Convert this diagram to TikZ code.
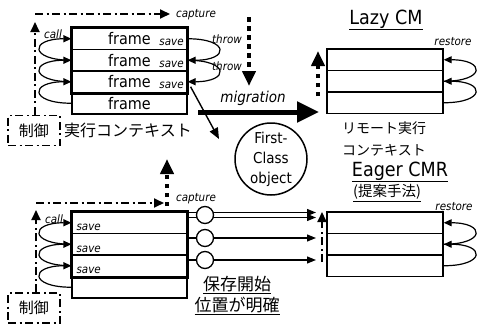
\documentclass[tikz,border=0pt]{standalone}
\usepackage{fontspec}
\setmainfont{DejaVu Sans Condensed}
\newfontfamily\jp{Noto Sans CJK JP}
\usetikzlibrary{arrows.meta,calc}
\begin{document}
\begin{tikzpicture}[x=1pt,y=-1pt,
  row/.style={draw, line width=1.2pt, minimum width=115pt, minimum height=21.5pt, inner sep=0pt, font=\fontsize{16}{17}\selectfont},
  rrow/.style={draw, line width=1.4pt, minimum width=116pt, minimum height=21.5pt, inner sep=0pt},
  thickbox/.style={line width=3pt},
  smallit/.style={font=\fontsize{11.5}{12}\selectfont\itshape, inner sep=0pt},
  dashdot/.style={line width=1.8pt, dash pattern=on 8pt off 3.5pt on 2pt off 3.5pt},
  ddarrow/.style={dashdot, -{Triangle[length=10pt,width=9pt]}},
  dotarrow/.style={line width=4.5pt, dash pattern=on 4.5pt off 4.5pt, -{Triangle[length=15pt,width=13pt]}},
  curvearr/.style={line width=1.2pt, -{Triangle[length=8pt,width=7pt]}},
  linearr/.style={line width=1.2pt, -{Triangle[length=9pt,width=7pt]}},
  ctrlbox/.style={dashdot, draw, minimum width=52pt, minimum height=30pt, inner sep=0pt, font=\jp\fontsize{15}{16}\selectfont},
  jptext/.style={font=\jp\fontsize{15}{17}\selectfont, inner sep=0pt},
  bigtitle/.style={font=\fontsize{19.5}{21}\selectfont, inner sep=0pt},
  smallc/.style={circle, draw, line width=1.3pt, fill=white, minimum size=17pt, inner sep=0pt}
]
\useasboundingbox (0,0) rectangle (477,324);

% ---------- top left stack ----------
\node[row] (L1) at (129.5,38.75) {\raisebox{-1.5pt}{frame}};
\node[row] (L2) at (129.5,60.25) {\raisebox{-1.5pt}{frame}};
\node[row] (L3) at (129.5,81.75) {\raisebox{-1.5pt}{frame}};
\node[row] (L4) at (129.5,103.25) {\raisebox{-1.5pt}{frame}};
\draw[thickbox] (L1.north west) rectangle (L3.south east);
\foreach \r in {L1,L2,L3}{
  \node[smallit] at ([xshift=-16pt,yshift=-4pt]\r.east) {save};
}
\draw[curvearr] (L2.west) .. controls +(-42,0) and +(-42,0) .. (L1.west);
\draw[curvearr] (L3.west) .. controls +(-42,0) and +(-42,0) .. (L2.west);
\draw[curvearr] (L4.west) .. controls +(-42,0) and +(-42,0) .. (L3.west);
\node[smallit] (callT) at (53,34) {call};
\draw[curvearr] (L1.east) .. controls +(42,0) and +(42,0) .. (L2.east);
\draw[curvearr] (L2.east) .. controls +(42,0) and +(42,0) .. (L3.east);
\node[smallit] (thr1) at (227,39) {throw};
\node[smallit] (thr2) at (227,66) {throw};

\node[ctrlbox] (ctrlT) at (34,130.5) {制御};
\coordinate (vT) at (35,22);
\coordinate (hT0) at (35,14);
\coordinate (hT1) at (170,14);
\draw[ddarrow] (ctrlT.north -| vT) -- (vT);
\draw[ddarrow] (hT0) -- (hT1);
\node[smallit] (capT) at (196,15) {capture};
\node[jptext, font=\jp\fontsize{16}{17}\selectfont] (ctxT) at (128,130) {実行コンテキスト};

% dotted arrows
\coordinate (dA0) at (249,17);
\coordinate (dA1) at (249,86);
\draw[dotarrow] (dA0) -- (dA1);

% migration
\coordinate (m0) at (198,112);
\coordinate (m1) at (319,112);
\draw[line width=5pt, -{Triangle[length=22pt,width=20pt]}] (m0) -- (m1);
\node[font=\fontsize{15}{16}\selectfont\itshape, inner sep=0pt] (mig) at (253,98) {migration};

% first-class object
\node[circle, draw, line width=1.5pt, minimum size=72pt, inner sep=0pt, align=center,
      font=\fontsize{15}{20}\selectfont] (fco) at (271,159) {First-\\Class\\object};
\coordinate (dg1) at (219,139);
\draw[line width=1.4pt, -{Triangle[length=11pt,width=9pt]}] ([xshift=3pt,yshift=-5pt]L3.east) -- (dg1);

% ---------- top right ----------
\node[bigtitle] (lazy) at (386,20) {\underline{Lazy CM}};
\node[rrow] (R1) at (385,59.75) {};
\node[rrow] (R2) at (385,81.25) {};
\node[rrow] (R3) at (385,102.75) {};
\draw[curvearr] (R3.east) .. controls +(42,0) and +(42,0) .. (R2.east);
\draw[curvearr] (R2.east) .. controls +(42,0) and +(42,0) .. (R1.east);
\node[smallit] (rsT) at (453,42) {restore};
\coordinate (dR0) at (318,96);
\coordinate (dR1) at (318,51);
\draw[dotarrow] (dR0) -- (dR1);
\node[jptext, font=\jp\fontsize{14}{15}\selectfont] (rem1) at (384,128) {リモート実行};
\node[jptext, font=\jp\fontsize{14}{15}\selectfont] (rem2) at (384,150) {コンテキスト};

% ---------- bottom ----------
\node[bigtitle] (eager) at (400,172) {\underline{Eager CMR}};
\node[jptext, font=\jp\fontsize{14.5}{15}\selectfont] (teian) at (387,193) {\underline{(提案手法)}};

\node[row] (B1) at (129.5,222.75) {};
\node[row] (B2) at (129.5,244.25) {};
\node[row] (B3) at (129.5,265.75) {};
\node[row] (B4) at (129.5,287.25) {};
\draw[thickbox] (B1.north west) rectangle (B3.south east);
\foreach \r in {B1,B2,B3}{
  \node[smallit, anchor=west] at ([xshift=5pt,yshift=-5pt]\r.west) {save};
}
\draw[curvearr] (B2.west) .. controls +(-42,0) and +(-42,0) .. (B1.west);
\draw[curvearr] (B3.west) .. controls +(-42,0) and +(-42,0) .. (B2.west);
\draw[curvearr] (B4.west) .. controls +(-42,0) and +(-42,0) .. (B3.west);
\node[smallit] (callB) at (54,219) {call};

\node[ctrlbox] (ctrlB) at (34,308) {制御};
\coordinate (vB) at (36,210);
\coordinate (hB0) at (36,203);
\coordinate (hB1) at (164,203);
\draw[ddarrow] (ctrlB.north -| vB) -- (vB);
\draw[ddarrow] (hB0) -- (hB1);
\node[smallit] (capB) at (196,199) {capture};
\coordinate (dB0) at (167,206);
\coordinate (dB1) at (167,159);
\draw[dotarrow] (dB0) -- (dB1);

% lines with circles
\coordinate (t1a) at (316,212.5);
\coordinate (t1b) at (316,217.5);
\coordinate (t2) at (316,238);
\coordinate (t3) at (316,260);
\draw[linearr] (B1.east |- t1a) -- (t1a);
\draw[linearr] (B1.east |- t1b) -- (t1b);
\draw[linearr] (B1.east |- t2) -- (t2);
\draw[linearr] (B1.east |- t3) -- (t3);
\node[smallc] (s1) at (205,215) {};
\node[smallc] (s2) at (205,238) {};
\node[smallc] (s3) at (205,260) {};

\node[rrow] (E1) at (385,222.75) {};
\node[rrow] (E2) at (385,244.25) {};
\node[rrow] (E3) at (385,265.75) {};
\draw[curvearr] (E3.east) .. controls +(42,0) and +(42,0) .. (E2.east);
\draw[curvearr] (E2.east) .. controls +(42,0) and +(42,0) .. (E1.east);
\node[smallit] (rsB) at (454,207) {restore};
\coordinate (vE0) at (322,262);
\coordinate (vE1) at (322,212);
\draw[ddarrow] (vE0) -- (vE1);

\node[jptext, font=\jp\fontsize{17}{18}\selectfont] (hozon1) at (237,285) {\underline{保存開始}};
\node[jptext, font=\jp\fontsize{17}{18}\selectfont] (hozon2) at (237,306) {\underline{位置が明確}};
\end{tikzpicture}
\end{document}
